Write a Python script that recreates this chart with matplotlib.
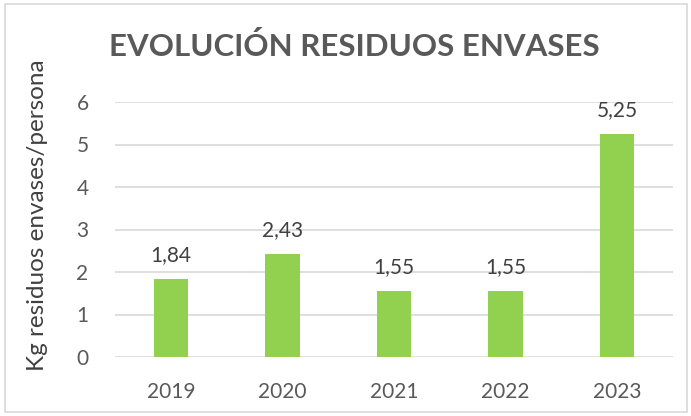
import matplotlib.pyplot as plt
from matplotlib.patches import Rectangle

years = ["2019", "2020", "2021", "2022", "2023"]
kg_per_person = [1.84, 2.43, 1.55, 1.55, 5.25]
value_labels = ["1,84", "2,43", "1,55", "1,55", "5,25"]

plt.rcParams["font.family"] = ["Lato", "DejaVu Sans"]
GREY = "#595959"

fig = plt.figure(figsize=(6.91, 4.16), dpi=100)
ax = fig.add_axes([115 / 691, 1 - 357 / 416, 558 / 691, 255 / 416])

x = range(len(years))
ax.bar(x, kg_per_person, width=0.31, color="#92D050", zorder=3)
for i, (v, lab) in enumerate(zip(kg_per_person, value_labels)):
    ax.annotate(lab, (i, v), xytext=(0, 10), textcoords="offset points",
                ha="center", va="bottom", fontsize=15, color="#404040")

ax.set_xlim(-0.5, len(years) - 0.5)
ax.set_ylim(0, 6)
ax.set_yticks(range(7))
ax.set_xticks(list(x))
ax.set_xticklabels(years)
ax.tick_params(axis="both", length=0, labelsize=15, colors=GREY)
ax.tick_params(axis="y", pad=19)
ax.tick_params(axis="x", pad=18)
ax.grid(axis="y", color="#d9d9d9", linewidth=1.2, zorder=0)
for s in ax.spines.values():
    s.set_visible(False)

# y label placed by hand, it sits a bit above the middle of the plot area
fig.text(38 / 691, 1 - 215 / 416, "Kg residuos envases/persona", rotation=90,
         ha="center", va="center", fontsize=17.5, color="#404040")
fig.text(354 / 691, 1 - 47 / 416, "EVOLUCIÓN RESIDUOS ENVASES", ha="center", va="center",
         fontsize=22.5, fontweight="bold", color=GREY)

fig.patches.append(Rectangle((5 / 691, 4 / 416), 682 / 691, 408 / 416, transform=fig.transFigure,
                             fill=False, edgecolor="#d9d9d9", linewidth=1.2))

fig.savefig("out.png", dpi=100)
